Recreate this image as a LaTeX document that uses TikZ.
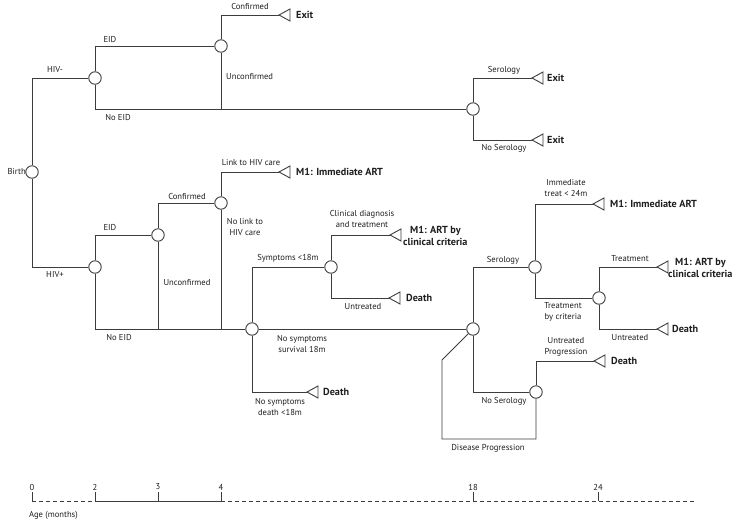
\documentclass[tikz,border=0pt]{standalone}
\usepackage{fontspec}
\setmainfont{PT Sans}
\definecolor{lc}{RGB}{60,60,60}
\definecolor{tc}{RGB}{30,30,30}
\newcommand\termtri[1]{\draw[line,fill=white] (#1) -- ++(11,-6) -- ++(0,12) -- cycle;}
\begin{document}
\begin{tikzpicture}[x=1pt,y=-1pt,
  line/.style={draw=lc, line width=0.9pt},
  chance/.style={circle, draw=lc, line width=0.9pt, fill=white, minimum size=12.5pt, inner sep=0pt},
  lab/.style={font=\fontsize{8.6}{10.6}\selectfont, text=tc, align=center, inner sep=0pt},
  outc/.style={font=\fontsize{10.2}{11.5}\selectfont\bfseries, text=tc, align=center, inner sep=0pt, anchor=west},
  tl/.style={line, dash pattern=on 4pt off 3pt},
]
\useasboundingbox (0,0) rectangle (740,523);

% chance nodes
\node[chance] (birth) at (32,172) {};
\node[chance] (hivn) at (95,78) {};
\node[chance] (eidn) at (221,46) {};
\node[chance] (serN) at (473,109) {};
\node[chance] (hivp) at (95,267) {};
\node[chance] (eidp) at (158,235) {};
\node[chance] (conf) at (221,203) {};
\node[chance] (symp) at (252,329) {};
\node[chance] (clin) at (331,267) {};
\node[chance] (c18) at (473,329) {};
\node[chance] (ser) at (535,267) {};
\node[chance] (crit) at (599,298) {};
\node[chance] (noser) at (536,392) {};

% terminal tips
\coordinate (tE1) at (279,15);
\coordinate (tE2) at (532,78);
\coordinate (tE3) at (532,140);
\coordinate (tM1a) at (279,172);
\coordinate (tM2a) at (390,235);
\coordinate (tD2) at (389,298);
\coordinate (tD1) at (307,392);
\coordinate (tM1b) at (593,204);
\coordinate (tM2b) at (657,267);
\coordinate (tD3) at (657,329);
\coordinate (tD4) at (594,361);

% junctions
\coordinate (jn) at (221,109);
\coordinate (j1) at (158,329);
\coordinate (j2) at (221,329);
\coordinate (dp1) at (442,439);
\coordinate (dp2) at (442,360);

% connectors
\draw[line] (birth.north) |- (hivn.west);
\draw[line] (birth.south) |- (hivp.west);
\draw[line] (hivn.north) |- (eidn.west);
\draw[line] (hivn.south) |- (serN.west);
\draw[line] (eidn.north) |- (tE1);
\draw[line] (eidn.south) -- (jn);
\draw[line] (serN.north) |- (tE2);
\draw[line] (serN.south) |- (tE3);

\draw[line] (hivp.north) |- (eidp.west);
\draw[line] (hivp.south) |- (symp.west);
\draw[line] (eidp.north) |- (conf.west);
\draw[line] (eidp.south) -- (j1);
\draw[line] (conf.north) |- (tM1a);
\draw[line] (conf.south) -- (j2);
\draw[line] (symp.north) |- (clin.west);
\draw[line] (symp.south) |- (tD1);
\draw[line] (symp.east) -- (c18.west);
\draw[line] (clin.north) |- (tM2a);
\draw[line] (clin.south) |- (tD2);
\draw[line] (c18.north) |- (ser.west);
\draw[line] (c18.south) |- (noser.west);
\draw[line] (ser.north) |- (tM1b);
\draw[line] (ser.south) |- (crit.west);
\draw[line] (crit.north) |- (tM2b);
\draw[line] (crit.south) |- (tD3);
\draw[line] (noser.north) |- (tD4);
\draw[line] (noser.south) |- (dp1) -- (dp2) -- (c18);

% terminal triangles
\termtri{tE1}\termtri{tE2}\termtri{tE3}\termtri{tM1a}\termtri{tM2a}\termtri{tD2}
\termtri{tD1}\termtri{tM1b}\termtri{tM2b}\termtri{tD3}\termtri{tD4}

% terminal labels
\node[outc] (oE1) at (296,15) {Exit};
\node[outc] (oE2) at (547,78) {Exit};
\node[outc] (oE3) at (547,140) {Exit};
\node[outc] (oM1a) at (296,172) {M1: Immediate ART};
\node[outc] (oM2a) at (403,236) {M1: ART by\\clinical criteria};
\node[outc] (oD2) at (406,298) {Death};
\node[outc] (oD1) at (323,392) {Death};
\node[outc] (oM1b) at (610,204) {M1: Immediate ART};
\node[outc] (oM2b) at (668,268) {M1: ART by\\clinical criteria};
\node[outc] (oD3) at (672,329) {Death};
\node[outc] (oD4) at (611,361) {Death};

% branch labels
\node[lab, anchor=east] (lbirth) at (26,172) {Birth};
\node[lab] (l1) at (55,70) {HIV-};
\node[lab] (l2) at (110,39) {EID};
\node[lab] (l3) at (118,117) {No EID};
\node[lab] (l4) at (250,6) {Confirmed};
\node[lab, anchor=west] (l5) at (226,77) {Unconfirmed};
\node[lab] (l6) at (504,70) {Serology};
\node[lab] (l7) at (504,148) {No Serology};

\node[lab] (l8) at (55,275) {HIV+};
\node[lab] (l9) at (110,227) {EID};
\node[lab] (l10) at (119,337) {No EID};
\node[lab] (l11) at (187,196) {Confirmed};
\node[lab] (l12) at (187,283) {Unconfirmed};
\node[lab] (l13) at (251,163) {Link to HIV care};
\node[lab] (l14) at (245,227) {No link to\\HIV care};
\node[lab] (l15) at (288,258) {Symptoms <18m};
\node[lab] (l16) at (302,344) {No symptoms\\survival 18m};
\node[lab] (l17) at (280,407) {No symptoms\\death <18m};
\node[lab] (l18) at (362,219) {Clinical diagnosis\\and treatment};
\node[lab] (l19) at (363,307) {Untreated};
\node[lab] (l20) at (503,260) {Serology};
\node[lab] (l21) at (504,401) {No Serology};
\node[lab] (l22) at (488,448) {Disease Progression};
\node[lab] (l23) at (566,188) {Immediate\\treat < 24m};
\node[lab] (l24) at (563,312) {Treatment\\by criteria};
\node[lab] (l25) at (630,259) {Treatment};
\node[lab] (l26) at (630,338) {Untreated};
\node[lab] (l27) at (566,347) {Untreated\\Progression};

% timeline
\coordinate (a0) at (32,501);
\coordinate (a2) at (95,501);
\coordinate (a3) at (158,501);
\coordinate (a4) at (221,501);
\coordinate (a18) at (473,501);
\coordinate (a24) at (598,501);
\coordinate (aend) at (695,501);
\draw[tl] (a0) -- (a2);
\draw[line] (a2) -- (a4);
\draw[tl] (a4) -- (aend);
\foreach \p in {a0,a2,a3,a4,a18,a24} \draw[line] (\p) -- ++(0,-9);
\node[lab] (n0) at (32,487) {0};
\node[lab] (n2) at (95,487) {2};
\node[lab] (n3) at (158,487) {3};
\node[lab] (n4) at (221,487) {4};
\node[lab] (n18) at (473,487) {18};
\node[lab] (n24) at (598,487) {24};
\node[lab, anchor=west] (age) at (29,515) {Age (months)};
\end{tikzpicture}
\end{document}
